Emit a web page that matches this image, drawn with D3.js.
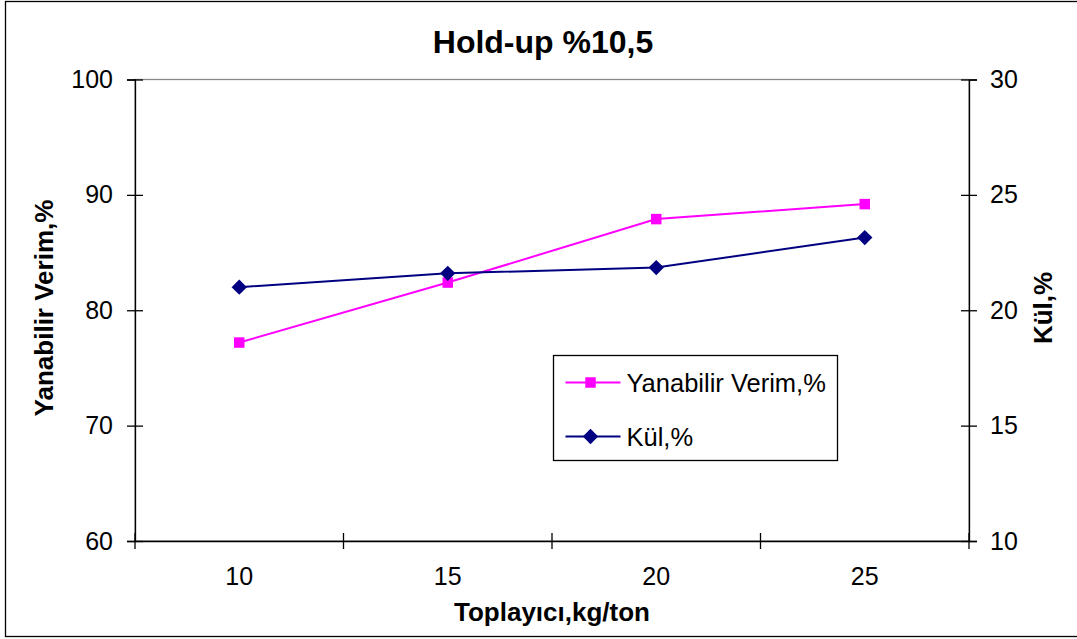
<!doctype html>
<html>
<head>
<meta charset="utf-8">
<title>Hold-up %10,5</title>
<script src="https://cdn.jsdelivr.net/npm/d3@7"></script>
<style>
  body { margin: 0; background: #fff; }
  svg { display: block; font-family: "Liberation Sans", Arial, sans-serif; }
  .tick text { font-size: 25px; fill: #000; }
  .domain, .tick line { stroke: #000; stroke-width: 1.3px; }
</style>
</head>
<body>
<svg id="chart" width="1077" height="639"></svg>
<script>
// data
var categories = ["10", "15", "20", "25"];
var verim = [77.2, 82.4, 87.9, 89.2];   // Yanabilir Verim,% (left axis)
var kul = [21.0, 21.6, 21.85, 23.15];   // Kül,% (right axis)
var leftTicks = [60, 70, 80, 90, 100];
var rightTicks = [10, 15, 20, 25, 30];

var svg = d3.select("#chart"),
    plot = {left: 135, right: 969, top: 79.5, bottom: 541};

// outer frame
svg.append("rect")
    .attr("x", 5.5).attr("y", 1.5)
    .attr("width", 1080).attr("height", 635)
    .attr("fill", "#fff").attr("stroke", "#000").attr("stroke-width", 1.3);

var x = d3.scaleBand().domain(categories).range([plot.left, plot.right]).padding(0);
var yL = d3.scaleLinear().domain([60, 100]).range([plot.bottom, plot.top]);
var yR = d3.scaleLinear().domain([10, 30]).range([plot.bottom, plot.top]);

// plot area border (grey)
svg.append("rect")
    .attr("x", plot.left).attr("y", plot.top)
    .attr("width", plot.right - plot.left).attr("height", plot.bottom - plot.top)
    .attr("fill", "none").attr("stroke", "#888").attr("stroke-width", 1.3);

// left axis
var gl = svg.append("g").attr("transform", "translate(" + plot.left + ",0)")
    .call(d3.axisLeft(yL).tickValues(leftTicks).tickSizeOuter(0).tickSize(8).tickPadding(14));
gl.selectAll(".tick line").attr("x2", -8).attr("x1", 8);

// right axis
var gr = svg.append("g").attr("transform", "translate(" + plot.right + ",0)")
    .call(d3.axisRight(yR).tickValues(rightTicks).tickSizeOuter(0).tickSize(8).tickPadding(13));
gr.selectAll(".tick line").attr("x2", 8).attr("x1", -8);

// bottom axis: labels at category centres, ticks between categories
var gb = svg.append("g").attr("transform", "translate(0," + plot.bottom + ")")
    .call(d3.axisBottom(x).tickSize(0).tickSizeOuter(0).tickPadding(26));
gb.selectAll(".tick text").attr("dy", "0.71em");
var bounds = categories.map(function(c) { return x(c); }).concat([x(categories[categories.length - 1]) + x.bandwidth()]);
gb.selectAll(".btick").data(bounds).enter().append("line")
    .attr("x1", function(d) { return d; }).attr("x2", function(d) { return d; })
    .attr("y1", -8).attr("y2", 8)
    .attr("stroke", "#000").attr("stroke-width", 1.3);

// series
var cx = function(i) { return x(categories[i]) + x.bandwidth() / 2; };
var lineL = d3.line().x(function(d, i) { return cx(i); }).y(function(d) { return yL(d); });
var lineR = d3.line().x(function(d, i) { return cx(i); }).y(function(d) { return yR(d); });

svg.append("path").datum(verim).attr("d", lineL)
    .attr("fill", "none").attr("stroke", "#ff00ff").attr("stroke-width", 2);
svg.append("path").datum(kul).attr("d", lineR)
    .attr("fill", "none").attr("stroke", "#000080").attr("stroke-width", 2);

var square = d3.symbol().type(d3.symbolSquare).size(110);
var diamond = d3.symbol().type(d3.symbolDiamond2).size(150);

svg.selectAll(".m1").data(verim).enter().append("path")
    .attr("d", square)
    .attr("transform", function(d, i) { return "translate(" + cx(i) + "," + yL(d) + ")"; })
    .attr("fill", "#ff00ff");
svg.selectAll(".m2").data(kul).enter().append("path")
    .attr("d", diamond)
    .attr("transform", function(d, i) { return "translate(" + cx(i) + "," + yR(d) + ")"; })
    .attr("fill", "#000080");

// titles
svg.append("text").attr("x", 543).attr("y", 53)
    .attr("text-anchor", "middle").attr("font-size", 32).attr("font-weight", "bold")
    .text("Hold-up %10,5");
svg.append("text").attr("x", (plot.left + plot.right) / 2).attr("y", 621)
    .attr("text-anchor", "middle").attr("font-size", 26).attr("font-weight", "bold")
    .text("Toplayıcı,kg/ton");
svg.append("text")
    .attr("transform", "translate(53,308) rotate(-90)")
    .attr("text-anchor", "middle").attr("font-size", 26).attr("font-weight", "bold")
    .text("Yanabilir Verim,%");
svg.append("text")
    .attr("transform", "translate(1052,308) rotate(-90)")
    .attr("text-anchor", "middle").attr("font-size", 26).attr("font-weight", "bold")
    .text("Kül,%");

// legend
var legend = svg.append("g").attr("transform", "translate(553.5,355.5)");
legend.append("rect").attr("width", 284).attr("height", 105)
    .attr("fill", "#fff").attr("stroke", "#000").attr("stroke-width", 1.3);
var items = [
  {name: "Yanabilir Verim,%", color: "#ff00ff", sym: square},
  {name: "Kül,%", color: "#000080", sym: diamond}
];
var li = legend.selectAll(".li").data(items).enter().append("g")
    .attr("transform", function(d, i) { return "translate(0," + (27 + i * 54) + ")"; });
li.append("line").attr("x1", 12).attr("x2", 67)
    .attr("stroke", function(d) { return d.color; }).attr("stroke-width", 2);
li.append("path").attr("d", function(d) { return d.sym(); })
    .attr("transform", "translate(37,0)")
    .attr("fill", function(d) { return d.color; });
li.append("text").attr("x", 73).attr("y", 9).attr("font-size", 25.5)
    .text(function(d) { return d.name; });
</script>
</body>
</html>
